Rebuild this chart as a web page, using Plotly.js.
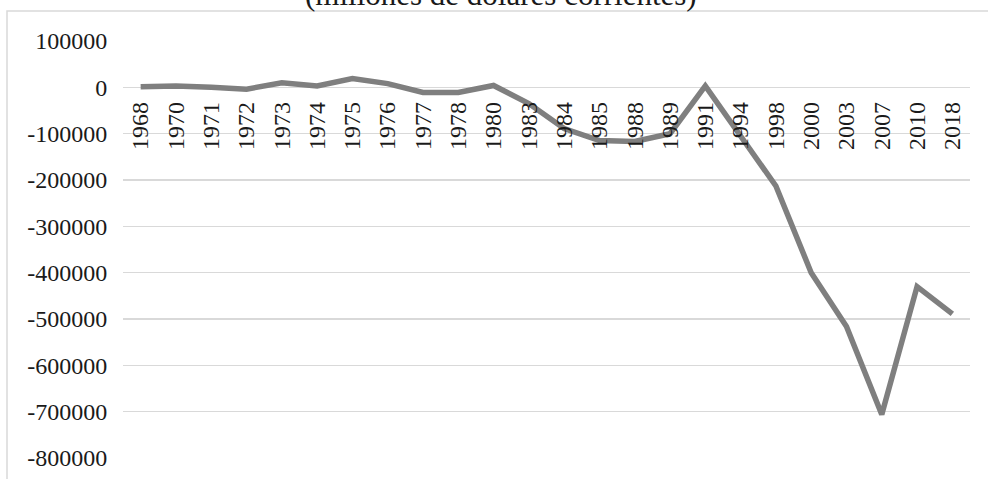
<!DOCTYPE html>
<html>
<head>
<meta charset="utf-8">
<script src="https://cdn.plot.ly/plotly-3.0.1.min.js"></script>
<style>html,body{margin:0;padding:0;background:#fff;}#chart{width:988px;height:479px;}</style>
</head>
<body>
<div id="chart"></div>
<script>
const years = ["1968","1970","1971","1972","1973","1974","1975","1976","1977","1978","1980","1983","1984","1985","1988","1989","1991","1994","1998","2000","2003","2007","2010","2018"];
const balance = [1500,3000,0,-4000,10000,3000,19000,8000,-11000,-11000,4000,-35000,-89000,-115000,-117000,-100000,3000,-104000,-213000,-400000,-516000,-706000,-430000,-489000];
const yTickVals = [100000,0,-100000,-200000,-300000,-400000,-500000,-600000,-700000,-800000];
const yTickText = yTickVals.map(v => String(v));
const titleText = "(millones de dólares corrientes)";

const fam = "Liberation Serif";

const trace = {
  x: years, y: balance, type: "scatter", mode: "lines",
  line: {color: "#7f7f7f", width: 5.5}, hoverinfo: "skip"
};

const layout = {
  width: 988, height: 479,
  margin: {l: 123, r: 18, t: 41, b: 21, pad: 0},
  paper_bgcolor: "#ffffff", plot_bgcolor: "#ffffff",
  showlegend: false,
  font: {family: fam, size: 24, color: "#1a1a1a"},
  xaxis: {
    type: "category", range: [-0.5, 23.5],
    anchor: "free", position: 8/9,
    tickangle: -90, ticks: "outside", ticklen: 4, tickcolor: "rgba(0,0,0,0)",
    showgrid: false, showline: false, zeroline: false,
    tickfont: {family: fam, size: 24, color: "#1a1a1a"}
  },
  yaxis: {
    range: [-800000, 100000], domain: [0, 1],
    tickvals: yTickVals, ticktext: yTickText,
    ticks: "outside", ticklen: 10, tickcolor: "rgba(0,0,0,0)",
    showgrid: true, gridcolor: "#d9d9d9", gridwidth: 1.5,
    zeroline: false, showline: false,
    tickfont: {family: fam, size: 24, color: "#1a1a1a"}
  },
  shapes: [{
    type: "rect", xref: "paper", yref: "paper",
    x0: -116/847, x1: 1.2, y0: -0.2, y1: 1 + 30/416.7,
    line: {color: "#d9d9d9", width: 1.5}, fillcolor: "rgba(0,0,0,0)", layer: "below"
  }],
  annotations: [{
    text: titleText, xref: "paper", yref: "paper",
    x: (501 - 123)/847, y: 1 + 46/416.7, xanchor: "center", yanchor: "middle",
    showarrow: false, font: {family: fam, size: 31, color: "#1a1a1a"}
  }]
};

Plotly.newPlot("chart", [trace], layout, {staticPlot: true, displayModeBar: false});
</script>
</body>
</html>
